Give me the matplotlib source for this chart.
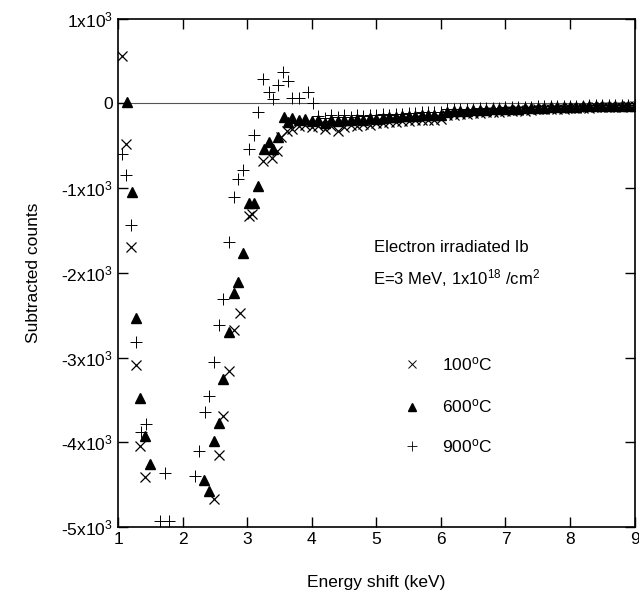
import numpy as np
import matplotlib
matplotlib.use("Agg")
import matplotlib.pyplot as plt

plt.rcParams['font.family'] = ['Liberation Sans', 'DejaVu Sans']
plt.rcParams['mathtext.fontset'] = 'custom'
plt.rcParams['mathtext.rm'] = 'Liberation Sans'
plt.rcParams['mathtext.it'] = 'Liberation Sans:italic'

# --- data (keV, counts) ---
x100_low = [1.06, 1.12, 1.20, 1.28, 1.34, 1.42, 2.48, 2.56, 2.63, 2.71, 2.79, 2.88,
            3.03, 3.08, 3.25, 3.39, 3.46, 3.53, 3.62]
y100_low = [555, -484, -1690, -3090, -4050, -4415, -4675, -4155, -3695, -3160, -2680, -2470,
            -1330, -1300, -680, -640, -560, -400, -330]

x600_low = [1.14, 1.21, 1.28, 1.34, 1.42, 1.49, 2.33, 2.40, 2.48, 2.56, 2.63, 2.71, 2.79,
            2.86, 2.93, 3.03, 3.11, 3.17, 3.26, 3.33, 3.40, 3.48, 3.57, 3.63]
y600_low = [12, -1050, -2530, -3480, -3930, -4260, -4450, -4580, -3990, -3770, -3250, -2700, -2240,
            -2110, -1760, -1170, -1170, -980, -540, -460, -540, -390, -165, -220]

x900_low = [1.06, 1.12, 1.20, 1.28, 1.35, 1.43, 1.65, 1.72, 1.79, 2.19, 2.25, 2.34, 2.40,
            2.48, 2.56, 2.63, 2.71, 2.79, 2.86, 2.94, 3.02, 3.10, 3.17, 3.24, 3.33, 3.40,
            3.48, 3.55, 3.63, 3.70, 3.80, 3.94, 4.02]
y900_low = [-600, -850, -1440, -2820, -3880, -3790, -4930, -4360, -4930, -4400, -4100, -3640, -3460,
            -3050, -2620, -2310, -1640, -1100, -890, -790, -540, -370, -100, 290, 140, 50,
            220, 370, 270, 70, 70, 130, 0]

# dense tail, one channel every 0.1 keV
band_x = np.round(np.arange(3.7, 9.01, 0.1), 2)
band_100 = [-300, -270, -250, -280, -260, -300, -270, -320, -280, -250, -260, -240, -250, -230,
            -230, -220, -220, -210, -210, -200, -200, -190, -190, -180, -140, -130, -120, -125,
            -110, -115, -100, -105, -95, -90, -90, -80, -85, -75, -70, -70, -65, -60, -60, -55,
            -55, -50, -50, -45, -45, -40, -40, -40, -35, -35]
band_600 = [-170, -200, -180, -210, -190, -230, -200, -210, -190, -200, -180, -190, -170, -180,
            -170, -160, -165, -150, -150, -145, -140, -135, -140, -130, -95, -90, -90, -85,
            -80, -80, -75, -70, -70, -65, -60, -60, -55, -55, -50, -50, -45, -45, -40, -40,
            -40, -35, -35, -35, -30, -30, -30, -25, -25, -25]
band_900 = [-150, -170, -130, -160, -140, -160, -130, -150, -130, -140, -120, -130, -120, -120,
            -110, -115, -100, -105, -95, -100, -70, -65, -65, -60, -60, -55, -55, -50, -50, -45,
            -45, -40, -40, -40, -35, -35, -30, -30, -30, -25, -25, -25, -20, -20, -20, -20,
            -15, -15, -15, -15]

x100 = x100_low + list(band_x)
y100 = y100_low + band_100
x600 = x600_low + list(band_x)
y600 = y600_low + band_600
x900 = x900_low + list(band_x[4:])
y900 = y900_low + band_900

fig = plt.figure(figsize=(6.39, 6.07), dpi=100)
ax = fig.add_axes([0.185, 0.132, 0.808, 0.837])

ax.axhline(0, color='#555555', lw=0.8, zorder=1)
ax.plot(x100, y100, 'x', color='black', ms=7, mew=0.9, ls='none')
ax.plot(x600, y600, '^', color='black', ms=7, ls='none')
ax.plot(x900, y900, '+', color='black', ms=8, mew=0.7, ls='none')

ax.set_xlim(1, 9)
ax.set_ylim(-5000, 1000)
ax.set_xticks(range(1, 10))
ax.set_yticks([1000, 0, -1000, -2000, -3000, -4000, -5000])
ax.set_yticklabels([r'1x10$^{3}$', '0', r'-1x10$^{3}$', r'-2x10$^{3}$', r'-3x10$^{3}$',
                    r'-4x10$^{3}$', r'-5x10$^{3}$'])
ax.tick_params(direction='in', top=True, right=True, length=7, width=1, labelsize=12.5, pad=4)
for s in ax.spines.values():
    s.set_linewidth(1.2)

ax.set_xlabel('Energy shift (keV)', fontsize=12.5, labelpad=20)
ax.set_ylabel('Subtracted counts', fontsize=12.5, labelpad=14)

# annotation and hand-made legend
ax.text(6.16, -1700, 'Electron irradiated Ib', fontsize=12, ha='center', va='center')
ax.text(6.24, -2060, r'E=3 MeV, 1x10$^{18}$ /cm$^{2}$', fontsize=12, ha='center', va='center')
ax.plot([5.55], [-3080], 'x', color='black', ms=6, mew=0.7)
ax.plot([5.55], [-3580], '^', color='black', ms=6)
ax.plot([5.55], [-4050], '+', color='black', ms=7, mew=0.6)
ax.text(6.02, -3080, '100$^{\\mathrm{o}}$C', fontsize=12.5, va='center')
ax.text(6.02, -3580, '600$^{\\mathrm{o}}$C', fontsize=12.5, va='center')
ax.text(6.02, -4050, '900$^{\\mathrm{o}}$C', fontsize=12.5, va='center')

fig.savefig('out.png', dpi=100)
